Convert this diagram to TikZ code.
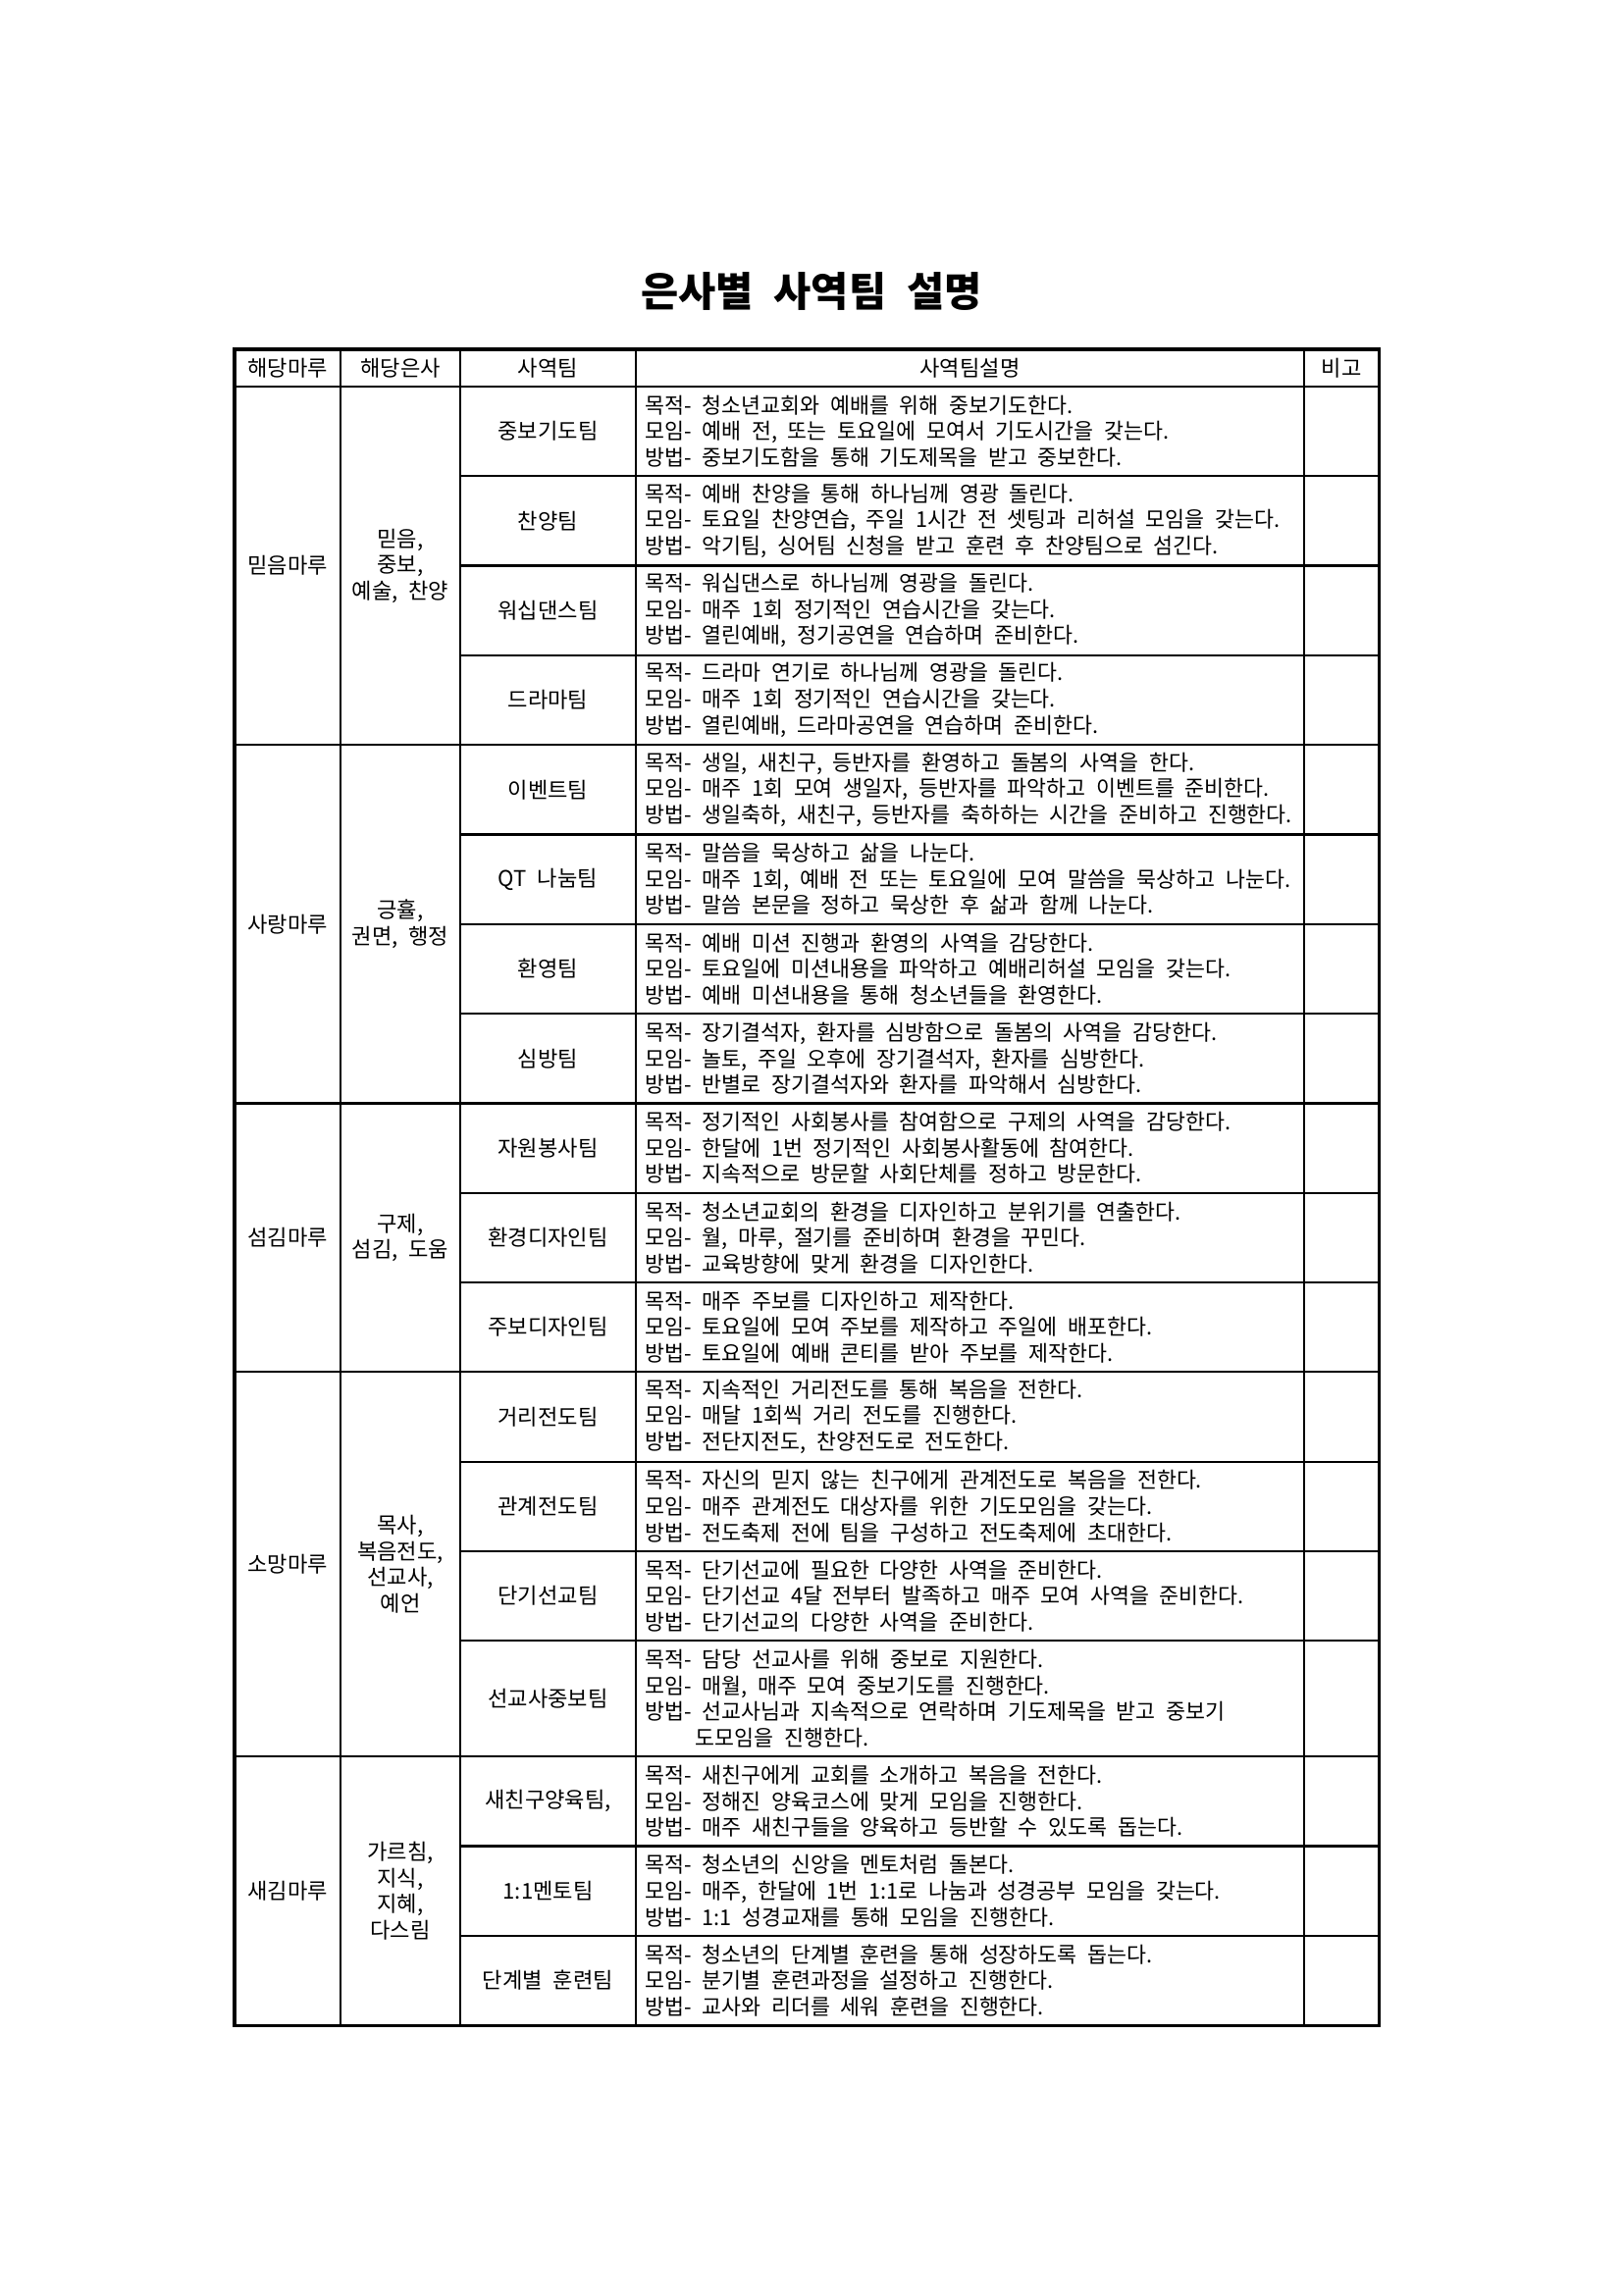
\documentclass[tikz,border=0pt]{standalone}
\usepackage{fontspec}
\usepackage{tikz}
\setmainfont{Noto Sans CJK KR}[WordSpace=2.2]
\newfontfamily\descfont{Noto Sans CJK KR}[FakeStretch=0.98,WordSpace=2.2]
\newcommand*{\lblfont}{\fontsize{8}{9.6}\selectfont}
\newcommand*{\descsize}{\descfont\fontsize{8}{9.6}\selectfont}

\begin{document}
\begin{tikzpicture}[x=0.127mm, y=-0.127mm,
  frame/.style={line width=1.1pt},
  rule/.style={line width=0.8pt},
  cell/.style={align=center, font=\lblfont, inner sep=0pt},
  desc/.style={anchor=west, align=left, font=\descsize, inner sep=0pt}]
\useasboundingbox (0,0) rectangle (1654,2339);
\node[font=\bfseries\fontsize{15}{17}\selectfont] (title) at (827,297) {은사별 사역팀 설명};

\draw[frame] (239,356) rectangle (1405,2064.1);
\foreach \x in {347,469,648,1329} \draw[rule] (\x,356) -- (\x,2064.1);
\foreach \y in {394,759.2,1124.4,1398.3,1790.2} \draw[rule] (239,\y) -- (1405,\y);
\foreach \y in {485.3,576.6,667.9,850.5,941.8,1033.1,1215.7,1307,1489.6,1580.9,1672.2,1881.5,1972.8}
  \draw[rule] (469,\y) -- (1405,\y);

\node[cell] (h1) at (293,375) {해당마루};
\node[cell] (h2) at (408,375) {해당은사};
\node[cell] (h3) at (558.5,375) {사역팀};
\node[cell] (h4) at (988.5,375) {사역팀설명};
\node[cell] (h5) at (1367,375) {비고};

\node[cell] (maru1) at (293,576.6) {믿음마루};
\node[cell] (eunsa1) at (408,576.6) {믿음,\\중보,\\예술, 찬양};
\node[cell] (maru2) at (293,941.8) {사랑마루};
\node[cell] (eunsa2) at (408,941.8) {긍휼,\\권면, 행정};
\node[cell] (maru3) at (293,1261.3) {섬김마루};
\node[cell] (eunsa3) at (408,1261.3) {구제,\\섬김, 도움};
\node[cell] (maru4) at (293,1594.2) {소망마루};
\node[cell] (eunsa4) at (408,1594.2) {목사,\\복음전도,\\선교사,\\예언};
\node[cell] (maru5) at (293,1927.1) {새김마루};
\node[cell] (eunsa5) at (408,1927.1) {가르침,\\지식,\\지혜,\\다스림};

\node[cell] (team1) at (558.5,439.6) {중보기도팀};
\node[desc] (desc1) at (657,439.6) {목적- 청소년교회와 예배를 위해 중보기도한다.\\모임- 예배 전, 또는 토요일에 모여서 기도시간을 갖는다.\\방법- 중보기도함을 통해 기도제목을 받고 중보한다.};
\node[cell] (team2) at (558.5,530.9) {찬양팀};
\node[desc] (desc2) at (657,530.9) {목적- 예배 찬양을 통해 하나님께 영광 돌린다.\\모임- 토요일 찬양연습, 주일 1시간 전 셋팅과 리허설 모임을 갖는다.\\방법- 악기팀, 싱어팀 신청을 받고 훈련 후 찬양팀으로 섬긴다.};
\node[cell] (team3) at (558.5,622.2) {워십댄스팀};
\node[desc] (desc3) at (657,622.2) {목적- 워십댄스로 하나님께 영광을 돌린다.\\모임- 매주 1회 정기적인 연습시간을 갖는다.\\방법- 열린예배, 정기공연을 연습하며 준비한다.};
\node[cell] (team4) at (558.5,713.5) {드라마팀};
\node[desc] (desc4) at (657,713.5) {목적- 드라마 연기로 하나님께 영광을 돌린다.\\모임- 매주 1회 정기적인 연습시간을 갖는다.\\방법- 열린예배, 드라마공연을 연습하며 준비한다.};

\node[cell] (team5) at (558.5,804.8) {이벤트팀};
\node[desc] (desc5) at (657,804.8) {목적- 생일, 새친구, 등반자를 환영하고 돌봄의 사역을 한다.\\모임- 매주 1회 모여 생일자, 등반자를 파악하고 이벤트를 준비한다.\\방법- 생일축하, 새친구, 등반자를 축하하는 시간을 준비하고 진행한다.};
\node[cell] (team6) at (558.5,896.1) {QT 나눔팀};
\node[desc] (desc6) at (657,896.1) {목적- 말씀을 묵상하고 삶을 나눈다.\\모임- 매주 1회, 예배 전 또는 토요일에 모여 말씀을 묵상하고 나눈다.\\방법- 말씀 본문을 정하고 묵상한 후 삶과 함께 나눈다.};
\node[cell] (team7) at (558.5,987.4) {환영팀};
\node[desc] (desc7) at (657,987.4) {목적- 예배 미션 진행과 환영의 사역을 감당한다.\\모임- 토요일에 미션내용을 파악하고 예배리허설 모임을 갖는다.\\방법- 예배 미션내용을 통해 청소년들을 환영한다.};
\node[cell] (team8) at (558.5,1078.7) {심방팀};
\node[desc] (desc8) at (657,1078.7) {목적- 장기결석자, 환자를 심방함으로 돌봄의 사역을 감당한다.\\모임- 놀토, 주일 오후에 장기결석자, 환자를 심방한다.\\방법- 반별로 장기결석자와 환자를 파악해서 심방한다.};

\node[cell] (team9) at (558.5,1170) {자원봉사팀};
\node[desc] (desc9) at (657,1170) {목적- 정기적인 사회봉사를 참여함으로 구제의 사역을 감당한다.\\모임- 한달에 1번 정기적인 사회봉사활동에 참여한다.\\방법- 지속적으로 방문할 사회단체를 정하고 방문한다.};
\node[cell] (team10) at (558.5,1261.3) {환경디자인팀};
\node[desc] (desc10) at (657,1261.3) {목적- 청소년교회의 환경을 디자인하고 분위기를 연출한다.\\모임- 월, 마루, 절기를 준비하며 환경을 꾸민다.\\방법- 교육방향에 맞게 환경을 디자인한다.};
\node[cell] (team11) at (558.5,1352.6) {주보디자인팀};
\node[desc] (desc11) at (657,1352.6) {목적- 매주 주보를 디자인하고 제작한다.\\모임- 토요일에 모여 주보를 제작하고 주일에 배포한다.\\방법- 토요일에 예배 콘티를 받아 주보를 제작한다.};

\node[cell] (team12) at (558.5,1443.9) {거리전도팀};
\node[desc] (desc12) at (657,1443.9) {목적- 지속적인 거리전도를 통해 복음을 전한다.\\모임- 매달 1회씩 거리 전도를 진행한다.\\방법- 전단지전도, 찬양전도로 전도한다.};
\node[cell] (team13) at (558.5,1535.2) {관계전도팀};
\node[desc] (desc13) at (657,1535.2) {목적- 자신의 믿지 않는 친구에게 관계전도로 복음을 전한다.\\모임- 매주 관계전도 대상자를 위한 기도모임을 갖는다.\\방법- 전도축제 전에 팀을 구성하고 전도축제에 초대한다.};
\node[cell] (team14) at (558.5,1626.5) {단기선교팀};
\node[desc] (desc14) at (657,1626.5) {목적- 단기선교에 필요한 다양한 사역을 준비한다.\\모임- 단기선교 4달 전부터 발족하고 매주 모여 사역을 준비한다.\\방법- 단기선교의 다양한 사역을 준비한다.};
\node[cell] (team15) at (558.5,1731.2) {선교사중보팀};
\node[desc] (desc15) at (657,1731.2) {목적- 담당 선교사를 위해 중보로 지원한다.\\모임- 매월, 매주 모여 중보기도를 진행한다.\\방법- 선교사님과 지속적으로 연락하며 기도제목을 받고 중보기\\\hspace*{18.5pt}도모임을 진행한다.};

\node[cell] (team16) at (558.5,1835.8) {새친구양육팀,};
\node[desc] (desc16) at (657,1835.8) {목적- 새친구에게 교회를 소개하고 복음을 전한다.\\모임- 정해진 양육코스에 맞게 모임을 진행한다.\\방법- 매주 새친구들을 양육하고 등반할 수 있도록 돕는다.};
\node[cell] (team17) at (558.5,1927.1) {1:1멘토팀};
\node[desc] (desc17) at (657,1927.1) {목적- 청소년의 신앙을 멘토처럼 돌본다.\\모임- 매주, 한달에 1번 1:1로 나눔과 성경공부 모임을 갖는다.\\방법- 1:1 성경교재를 통해 모임을 진행한다.};
\node[cell] (team18) at (558.5,2018.4) {단계별 훈련팀};
\node[desc] (desc18) at (657,2018.4) {목적- 청소년의 단계별 훈련을 통해 성장하도록 돕는다.\\모임- 분기별 훈련과정을 설정하고 진행한다.\\방법- 교사와 리더를 세워 훈련을 진행한다.};
\end{tikzpicture}
\end{document}
